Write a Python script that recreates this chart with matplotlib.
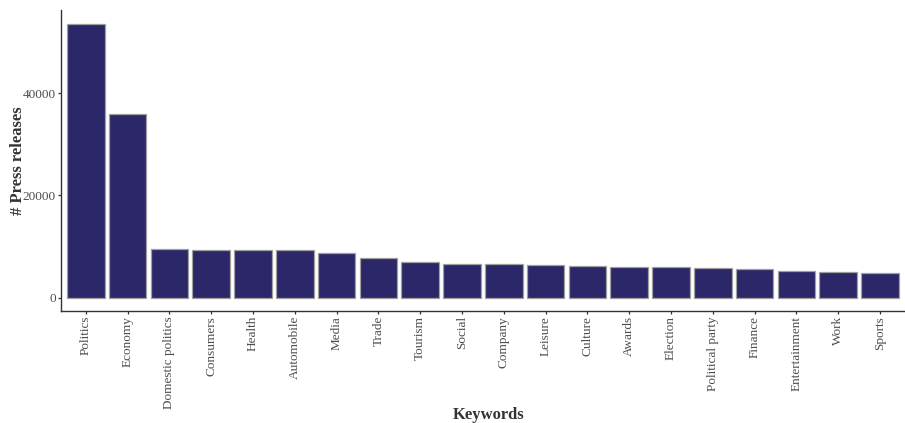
import matplotlib.pyplot as plt

keywords = ["Politics", "Economy", "Domestic politics", "Consumers", "Health",
            "Automobile", "Media", "Trade", "Tourism", "Social", "Company",
            "Leisure", "Culture", "Awards", "Election", "Political party",
            "Finance", "Entertainment", "Work", "Sports"]
press_releases = [53560, 35890, 9500, 9360, 9230, 9230, 8720, 7800, 7020, 6570,
                  6500, 6380, 6180, 5910, 5910, 5790, 5600, 5130, 4940, 4740]

plt.rcParams['font.family'] = ['Liberation Serif', 'DejaVu Serif']

fig = plt.figure(figsize=(9.05, 4.23), dpi=100)
ax = fig.add_axes([0.067, 0.264, 0.933, 0.712])

x = range(len(keywords))
ax.bar(x, press_releases, width=0.9, color='#2b2769', edgecolor='#a0a0a0', linewidth=0.9)

ymax = max(press_releases)
ax.set_xlim(-0.6, len(keywords) - 0.4)
ax.set_ylim(-0.05 * ymax, 1.05 * ymax)
ax.set_yticks([0, 20000, 40000])
ax.set_xticks(list(x))
ax.set_xticklabels(keywords, rotation=90)

for side in ['top', 'right']:
    ax.spines[side].set_visible(False)
for side in ['left', 'bottom']:
    ax.spines[side].set_color('#333333')
    ax.spines[side].set_linewidth(1.0)

ax.tick_params(axis='both', colors='#333333', labelcolor='#4d4d4d',
               labelsize=9.5, length=2.3, width=0.9, pad=1)

ax.set_xlabel("Keywords", fontsize=12, fontweight='bold', color='#333333')
ax.xaxis.label.set_va('baseline')
ax.xaxis.set_label_coords(0.507, -0.358)

ax.set_ylabel("# Press releases", fontsize=12, fontweight='bold', color='#333333')
ax.yaxis.label.set_va('center')
ax.yaxis.set_label_coords(-0.051, 0.5)

fig.savefig("out.png", dpi=100)
